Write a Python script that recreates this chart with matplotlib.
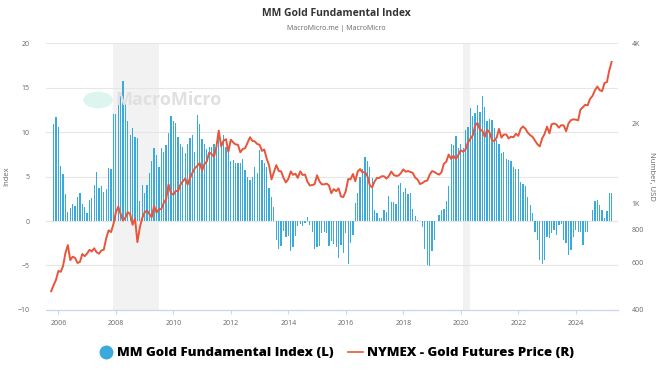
import matplotlib
matplotlib.use("Agg")
import matplotlib.pyplot as plt
import matplotlib.dates as mdates
from matplotlib.lines import Line2D
from matplotlib.patches import Circle
from matplotlib.ticker import FixedLocator, FixedFormatter, NullLocator
import pandas as pd

plt.rcParams['font.family'] = ['Open Sans', 'DejaVu Sans']

# MM Gold Fundamental Index, monthly, starting Nov 2005 (left axis)
index_start = "2005-11-01"
index_2005_2009 = [
    10.9, 11.7,
    10.6, 6.2, 5.3, 3.0, 1.0, 1.5, 1.9, 1.7, 2.7, 3.1, 1.9, 1.6,
    0.9, 2.4, 2.6, 4.0, 5.5, 3.7, 3.9, 3.3, 3.6, 6.0, 5.8, 12.0,
    12.0, 13.2, 14.0, 15.7, 13.4, 11.2, 9.7, 10.4, 9.4, 9.3, 2.2, 4.0,
    3.1, 4.0, 5.4, 6.8, 8.2, 7.4, 6.1, 8.2, 7.8, 8.5, 9.9, 11.8,
]
index_2010_2014 = [
    11.2, 11.0, 9.4, 8.7, 8.3, 7.7, 8.7, 9.3, 9.7, 7.8, 11.9, 10.9,
    9.2, 8.7, 8.1, 8.3, 8.3, 8.7, 8.9, 9.9, 8.5, 9.7, 8.3, 8.2,
    6.7, 6.9, 6.5, 6.5, 6.5, 7.0, 5.7, 5.0, 4.6, 5.0, 6.1, 5.4,
    8.0, 6.9, 6.5, 6.1, 3.7, 2.7, 1.6, -2.1, -3.2, -2.8, -1.1, -1.8,
    -1.7, -3.4, -2.9, -1.7, -0.6, -0.3, -0.6, -0.2, 0.5, -0.4, -1.2, -3.2,
]
index_2015_2019 = [
    -2.9, -2.8, -1.4, -1.2, -1.4, -2.8, -2.3, -2.6, -2.9, -4.2, -2.7, -3.6,
    -1.4, -4.8, -2.5, -1.6, 2.0, 3.1, 5.0, 5.8, 7.2, 6.7, 6.1, 4.8,
    1.2, 0.9, 0.3, 0.3, 1.2, 1.0, 2.8, 2.1, 2.1, 1.9, 4.1, 4.3,
    3.3, 3.7, 3.0, 3.2, 1.3, 0.6, 0.1, 0.0, -0.7, -3.1, -4.9, -5.1,
    -3.4, -2.1, 0.0, 0.7, 1.2, 1.4, 2.2, 3.9, 8.7, 8.5, 9.5, 8.2,
]
index_2020_2025 = [
    8.7, 8.2, 10.2, 10.6, 12.7, 11.8, 12.1, 13.0, 12.3, 14.0, 12.8, 11.2,
    11.5, 11.3, 10.4, 9.1, 8.7, 7.6, 7.8, 7.0, 6.9, 6.7, 6.1, 5.9,
    5.9, 4.4, 4.2, 3.9, 2.7, 1.8, 0.9, -1.2, -2.1, -4.4, -4.8, -4.4,
    -1.8, -1.9, -1.4, -1.0, -1.6, -0.4, -0.3, -2.1, -2.5, -3.8, -3.3, -1.8,
    -1.0, -1.2, -1.2, -2.7, -1.2, -1.2, 0.0, 1.2, 2.3, 2.4, 1.8, 1.2,
    0.3, 1.1, 3.2, 3.1,
]

# NYMEX gold futures, USD, monthly, starting Oct 2005 (right axis, log)
gold_start = "2005-10-01"
gold_2005_2009 = [
    470, 495, 518,
    560, 556, 584, 654, 700, 615, 633, 627, 600, 605, 648, 636,
    651, 672, 663, 681, 658, 650, 668, 673, 743, 795, 783, 838,
    928, 975, 917, 865, 886, 930, 914, 834, 880, 718, 815, 884,
    928, 943, 917, 891, 979, 927, 954, 955, 1008, 1040, 1182, 1097,
]
gold_2010_2014 = [
    1081, 1118, 1113, 1180, 1213, 1244, 1180, 1248, 1308, 1359, 1386, 1421,
    1333, 1411, 1439, 1556, 1536, 1500, 1628, 1880, 1640, 1725, 1746, 1566,
    1738, 1697, 1669, 1664, 1559, 1604, 1614, 1692, 1776, 1720, 1712, 1675,
    1663, 1578, 1597, 1476, 1393, 1234, 1313, 1396, 1327, 1323, 1250, 1202,
    1240, 1322, 1284, 1296, 1250, 1322, 1282, 1287, 1210, 1171, 1175, 1184,
]
gold_2015_2019 = [
    1278, 1213, 1183, 1182, 1190, 1172, 1095, 1135, 1115, 1142, 1065, 1060,
    1116, 1238, 1234, 1293, 1215, 1322, 1349, 1309, 1316, 1272, 1173, 1152,
    1212, 1250, 1249, 1268, 1268, 1242, 1269, 1321, 1283, 1271, 1275, 1303,
    1345, 1318, 1327, 1316, 1305, 1253, 1233, 1185, 1196, 1215, 1221, 1283,
    1325, 1316, 1298, 1286, 1311, 1413, 1437, 1529, 1472, 1513, 1470, 1523,
]
gold_2020_2025 = [
    1587, 1566, 1597, 1695, 1751, 1801, 1960, 2010, 1895, 1879, 1780, 1895,
    1850, 1734, 1716, 1769, 1907, 1771, 1817, 1818, 1757, 1784, 1775, 1829,
    1797, 1909, 1949, 1911, 1848, 1807, 1782, 1726, 1672, 1640, 1759, 1826,
    1945, 1836, 1986, 1999, 1982, 1929, 1970, 1966, 1870, 2000, 2057, 2072,
    2067, 2054, 2254, 2302, 2348, 2339, 2473, 2536, 2660, 2750, 2665, 2641,
    2835, 2858, 3150, 3400,
]

recessions = [("2007-12-01", "2009-06-30"), ("2020-02-01", "2020-04-30")]

left_ticks = [-10, -5, 0, 5, 10, 15, 20]
right_ticks = [400, 600, 800, 1000, 2000, 4000]
right_labels = ["400", "600", "800", "1K", "2K", "4K"]

BAR_COLOR = "#3aa9dc"
LINE_COLOR = "#e8553a"
TICK_COLOR = "#666666"


def main():
    index_values = index_2005_2009 + index_2010_2014 + index_2015_2019 + index_2020_2025
    gold_values = gold_2005_2009 + gold_2010_2014 + gold_2015_2019 + gold_2020_2025
    index_dates = pd.date_range(index_start, periods=len(index_values), freq="MS")
    gold_dates = pd.date_range(gold_start, periods=len(gold_values), freq="MS")

    fig = plt.figure(figsize=(6.72, 3.78), dpi=100)
    ax = fig.add_axes([0.0685, 0.18, 0.851, 0.706])
    ax2 = ax.twinx()

    for start, end in recessions:
        ax.axvspan(pd.Timestamp(start), pd.Timestamp(end), color="#f2f2f2", lw=0, zorder=0)

    ax.bar(index_dates, index_values, width=16, color=BAR_COLOR, zorder=2)
    ax2.plot(gold_dates, gold_values, color=LINE_COLOR, lw=1.4)

    ax.set_xlim(pd.Timestamp("2005-07-28"), pd.Timestamp("2025-06-20"))
    ax.set_ylim(-10, 20)
    ax.yaxis.set_major_locator(FixedLocator(left_ticks))
    ax.grid(axis="y", color="#e6e6e6", lw=0.8, zorder=1)
    ax.set_axisbelow(True)

    ax.xaxis.set_major_locator(mdates.YearLocator(2, month=1, day=1))
    ax.xaxis.set_major_formatter(mdates.DateFormatter("%Y"))
    ax.tick_params(axis="x", length=3, color="#ccd6eb", labelsize=5, labelcolor=TICK_COLOR, pad=4)
    ax.tick_params(axis="y", length=0, labelsize=5, labelcolor=TICK_COLOR, pad=12)

    ax2.set_yscale("log")
    ax2.set_ylim(400, 4000)
    ax2.yaxis.set_major_locator(FixedLocator(right_ticks))
    ax2.yaxis.set_major_formatter(FixedFormatter(right_labels))
    ax2.yaxis.set_minor_locator(NullLocator())
    ax2.tick_params(axis="y", length=0, labelsize=5, labelcolor=TICK_COLOR, pad=10)

    for a in (ax, ax2):
        for side in ("top", "left", "right"):
            a.spines[side].set_visible(False)
        a.spines["bottom"].set_color("#ccd6eb")

    ax.set_ylabel("Index", fontsize=5.5, color=TICK_COLOR, labelpad=5)
    ax2.set_ylabel("Number, USD", fontsize=5.5, color=TICK_COLOR, rotation=270, labelpad=8)

    fig.text(0.5, 0.965, "MM Gold Fundamental Index", ha="center", va="center",
             fontsize=7.5, fontweight="bold", color="#333333")
    fig.text(0.5, 0.925, "MacroMicro.me | MacroMicro", ha="center", va="center",
             fontsize=5, color="#666666")

    # watermark
    fig.patches.append(Circle((98 / 672, 1 - 100 / 378), 0.022, transform=fig.transFigure,
                              facecolor="#d4f3ea", edgecolor="none", alpha=0.8))
    fig.text(0.172, 1 - 100 / 378, "MacroMicro", ha="left", va="center",
             fontsize=13, fontweight="bold", color="#e0e0e0")

    handles = [
        Line2D([], [], marker="o", ls="none", markersize=9, color=BAR_COLOR),
        Line2D([], [], color=LINE_COLOR, lw=1.2),
    ]
    fig.legend(handles, ["MM Gold Fundamental Index (L)", "NYMEX - Gold Futures Price (R)"],
               loc="center", bbox_to_anchor=(0.5, 0.066), ncol=2, frameon=False,
               prop={"size": 9.5, "weight": "heavy"}, handlelength=1.1, handletextpad=0.3,
               columnspacing=1.1)

    fig.savefig("out.png", dpi=100)


if __name__ == "__main__":
    main()
